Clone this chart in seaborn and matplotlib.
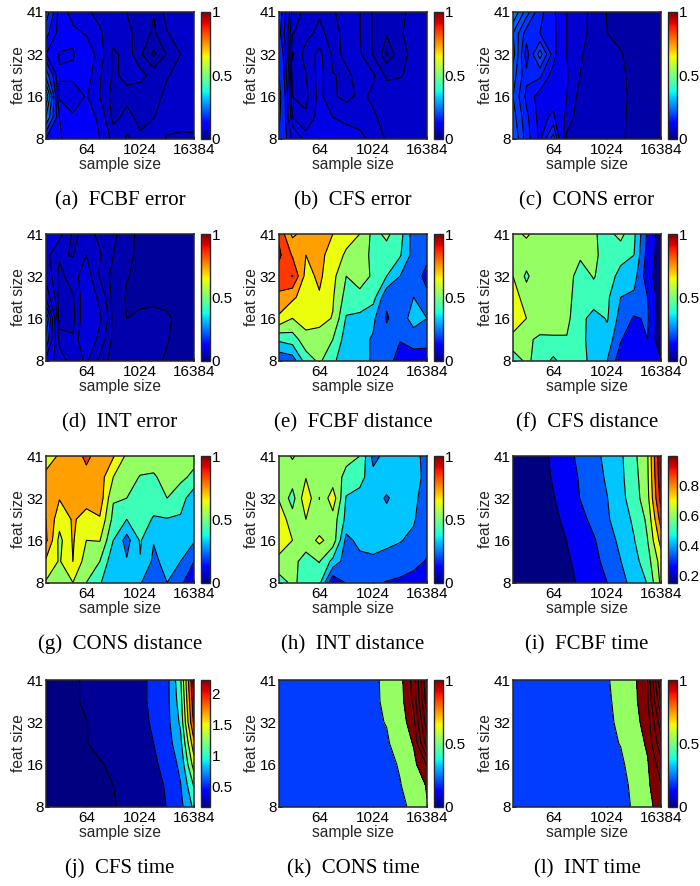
import matplotlib
matplotlib.use("Agg")
import matplotlib.pyplot as plt
import numpy as np
import seaborn as sns

sample_sizes = [8, 16, 32, 64, 128, 256, 512, 1024, 2048, 4096, 8192, 16384]
feat_rows = [0, 1, 2, 3, 4, 5, 6]  # 8 .. 41, evenly spaced on the picture
feat_ticks = ["8", "16", "32", "41"]
x_ticks = [64, 1024, 16384]

# rows go from feat size 8 (bottom) to 41 (top)
fcbf_error = [
    [.15, .13, .105, .104, .100, .073, .0585, .063, .063, .0595, .058, .0585],
    [.24, .125, .103, .105, .098, .0535, .066, .055, .0598, .063, .064, .064],
    [.30, .095, .088, .102, .08, .052, .055, .052, .054, .064, .066, .066],
    [.20, .102, .105, .112, .082, .057, .0645, .064, .056, .059, .064, .065],
    [.125, .098, .098, .115, .09, .056, .066, .052, .038, .051, .06, .064],
    [.16, .115, .105, .098, .082, .07, .062, .057, .048, .0595, .064, .066],
    [.20, .112, .092, .082, .076, .07, .06, .057, .0505, .064, .065, .066],
]
cfs_error = [
    [.19, .12, .092, .1, .1, .095, .09, .08, .068, .066, .065, .064],
    [.21, .085, .0725, .092, .085, .08, .078, .0715, .0665, .066, .065, .065],
    [.22, .0695, .066, .09, .072, .066, .0725, .068, .066, .0665, .0665, .065],
    [.20, .064, .0695, .0915, .0705, .0685, .0725, .0715, .058, .059, .0635, .065],
    [.19, .0585, .075, .09, .067, .072, .0715, .059, .044, .055, .064, .065],
    [.16, .0705, .066, .073, .0655, .0745, .0705, .059, .051, .059, .0635, .065],
    [.17, .08, .065, .0685, .069, .074, .0705, .059, .052, .058, .0625, .064],
]
cons_error = [
    [.21, .16, .125, .18, .065, .062, .058, .055, .0515, .047, .045, .044],
    [.20, .155, .122, .135, .08, .06, .058, .055, .052, .047, .045, .044],
    [.19, .145, .12, .12, .09, .062, .059, .056, .053, .047, .045, .044],
    [.20, .155, .155, .12, .092, .07, .06, .057, .0515, .0475, .045, .044],
    [.22, .14, .2, .14, .09, .072, .062, .058, .0505, .047, .045, .044],
    [.21, .16, .15, .14, .09, .074, .066, .05, .048, .046, .045, .044],
    [.25, .2, .155, .137, .09, .076, .065, .049, .047, .046, .045, .044],
]
int_error = [
    [.12, .085, .065, .078, .057, .045, .042, .042, .042, .039, .036, .035],
    [.17, .069, .0623, .095, .068, .047, .042, .042, .042, .0405, .037, .036],
    [.2, .05, .055, .09, .078, .047, .04, .0408, .0412, .0405, .039, .037],
    [.12, .052, .0585, .088, .071, .046, .039, .039, .039, .039, .038, .036],
    [.09, .055, .068, .085, .058, .047, .0405, .038, .036, .036, .035, .035],
    [.08, .062, .059, .075, .061, .05, .042, .038, .036, .036, .035, .035],
    [.085, .08, .058, .063, .058, .053, .043, .038, .036, .036, .035, .035],
]
fcbf_dist = [
    [.22, .25, .45, .52, .42, .34, .33, .29, .24, .16, .14, .15],
    [.42, .45, .56, .56, .50, .35, .33, .29, .235, .205, .25, .235],
    [.68, .60, .65, .63, .595, .39, .37, .32, .19, .25, .34, .30],
    [.78, .72, .65, .69, .61, .46, .48, .44, .22, .27, .30, .22],
    [.85, .905, .665, .72, .63, .50, .53, .49, .40, .30, .25, .17],
    [.92, .79, .70, .72, .67, .58, .56, .47, .46, .41, .26, .22],
    [.88, .68, .74, .74, .70, .65, .60, .47, .52, .44, .25, .23],
]
cfs_dist = [
    [.45, .52, .46, .38, .46, .43, .37, .30, .14, .12, .12, .10],
    [.56, .52, .48, .485, .495, .44, .34, .36, .21, .12, .2, .02],
    [.68, .60, .57, .56, .52, .44, .35, .41, .26, .19, .21, .03],
    [.65, .55, .53, .55, .53, .45, .47, .42, .30, .28, .20, .04],
    [.60, .48, .58, .55, .53, .47, .505, .46, .36, .34, .14, .04],
    [.57, .56, .57, .56, .55, .51, .52, .46, .44, .40, .16, .05],
    [.58, .61, .57, .56, .55, .53, .51, .47, .53, .42, .18, .05],
]
cons_dist = [
    [.59, .585, .6, .5, .41, .32, .31, .31, .22, .3, .22, .13],
    [.68, .59, .7, .55, .5, .33, .31, .395, .28, .33, .3, .2],
    [.82, .57, .71, .6, .605, .4, .26, .41, .305, .34, .33, .31],
    [.8, .64, .71, .67, .69, .47, .4, .45, .39, .395, .385, .32],
    [.74, .705, .72, .73, .76, .51, .5, .46, .45, .5, .45, .33],
    [.74, .74, .73, .76, .75, .60, .54, .495, .49, .53, .52, .48],
    [.62, .72, .73, .83, .74, .71, .58, .55, .54, .53, .52, .53],
]
int_dist = [
    [.46, .52, .46, .43, .12, .21, .23, .22, .195, .18, .15, .1],
    [.56, .53, .46, .505, .37, .25, .27, .28, .27, .26, .24, .19],
    [.68, .6, .55, .62, .56, .27, .33, .34, .32, .305, .28, .24],
    [.67, .54, .6, .53, .56, .37, .34, .33, .33, .32, .31, .24],
    [.59, .46, .67, .498, .66, .39, .36, .34, .29, .34, .32, .26],
    [.56, .55, .595, .55, .54, .48, .44, .33, .35, .35, .34, .27],
    [.55, .61, .55, .54, .53, .52, .5, .27, .33, .34, .33, .27],
]
fcbf_time = [
    [.157, .17, .18, .2, .23, .245, .28, .325, .395, .425, .50, .68],
    [.157, .17, .18, .20, .23, .262, .302, .35, .407, .464, .542, .70],
    [.157, .17, .19, .20, .2415, .279, .317, .371, .43, .49, .576, .78],
    [.157, .17, .20, .22, .261, .302, .347, .399, .451, .509, .595, .87],
    [.157, .18, .21, .235, .281, .327, .367, .407, .469, .536, .634, .95],
    [.157, .18, .205, .248, .29, .333, .375, .42, .477, .545, .647, .98],
    [.157, .18, .20, .262, .30, .345, .383, .432, .48, .558, .654, 1.0],
]
cfs_time = [
    [.18, .18, .19, .2, .21, .215, .235, .37, .44, .505, .67, 1.0],
    [.18, .19, .2, .205, .21, .22, .25, .38, .44, .52, .72, 1.17],
    [.18, .19, .2, .205, .215, .23, .27, .4, .47, .56, .79, 1.45],
    [.18, .19, .2, .218, .235, .27, .38, .44, .5, .63, .89, 1.7],
    [.18, .2, .21, .219, .23, .34, .41, .46, .52, .66, .99, 2.0],
    [.18, .2, .215, .225, .25, .35, .42, .47, .53, .67, 1.06, 2.1],
    [.18, .2, .215, .225, .26, .36, .42, .47, .53, .664, 1.12, 2.2],
]
cons_time = [
    [.18, .18, .19, .2, .21, .23, .26, .3, .36, .44, .56, .97],
    [.18, .19, .2, .21, .22, .24, .27, .31, .38, .49, .6, 1.05],
    [.19, .19, .2, .21, .23, .25, .28, .34, .44, .52, .84, 1.55],
    [.19, .2, .2, .22, .24, .26, .3, .38, .47, .61, 1.04, 2.8],
    [.2, .2, .21, .22, .24, .27, .32, .46, .51, .7, 1.33, 3.3],
    [.2, .2, .21, .22, .24, .28, .33, .46, .54, .78, 1.6, 3.8],
    [.2, .2, .21, .22, .24, .28, .33, .45, .56, .82, 1.7, 4.0],
]
int_time = [
    [.18, .18, .19, .2, .21, .23, .26, .32, .42, .53, .86, 1.2],
    [.18, .19, .2, .21, .22, .24, .27, .34, .46, .53, .9, 1.45],
    [.19, .19, .2, .21, .23, .25, .28, .36, .45, .62, .95, 1.8],
    [.19, .2, .2, .22, .24, .26, .3, .44, .51, .72, 1.08, 2.4],
    [.2, .2, .21, .22, .24, .27, .32, .48, .52, .8, 1.25, 2.8],
    [.2, .2, .21, .22, .24, .28, .33, .44, .62, .86, 1.42, 3.5],
    [.2, .2, .21, .22, .24, .28, .33, .46, .68, .88, 1.5, 4.0],
]

# contour levels, lowest level sets the colour of the bottom band
tenths = [.0, .1, .2, .3, .4, .5, .6, .7, .8, .9, 1.0]
fcbf_error_levels = [.03, .04, .05, .06, .08, .10, .125, .15, .18, .21, .24, .27, .3, .4]
cfs_error_levels = [.03, .045, .05, .06, .07, .085, .1, .125, .15, .2, .3]
cons_error_levels = [.03, .05, .07, .09, .13, .15, .17, .19, .21, .23, .3]
int_error_levels = [.025, .04, .05, .06, .075, .1, .125, .15, .175, .25]
fcbf_time_levels = [.15, .24, .325, .409, .494, .578, .662, .747, .831, .916, 1.01]
cfs_time_levels = [.17, .22, .5, .73, .95, 1.15, 1.35, 1.55, 1.75, 1.95, 2.1, 2.3]
slow_time_levels = [.175, .5, 1, 1.5, 2, 2.5, 3, 3.5, 5]

unit_range = (0, 1)
unit_ticks = [0, 0.5, 1]

panels = [
    ("(a)  FCBF error", fcbf_error, fcbf_error_levels, unit_range, unit_ticks),
    ("(b)  CFS error", cfs_error, cfs_error_levels, unit_range, unit_ticks),
    ("(c)  CONS error", cons_error, cons_error_levels, unit_range, unit_ticks),
    ("(d)  INT error", int_error, int_error_levels, unit_range, unit_ticks),
    ("(e)  FCBF distance", fcbf_dist, tenths, unit_range, unit_ticks),
    ("(f)  CFS distance", cfs_dist, tenths, unit_range, unit_ticks),
    ("(g)  CONS distance", cons_dist, tenths, unit_range, unit_ticks),
    ("(h)  INT distance", int_dist, tenths, unit_range, unit_ticks),
    ("(i)  FCBF time", fcbf_time, fcbf_time_levels, (.156, 1.0), [.2, .4, .6, .8]),
    ("(j)  CFS time", cfs_time, cfs_time_levels, (.178, 2.22), [.5, 1, 1.5, 2]),
    ("(k)  CONS time", cons_time, slow_time_levels, unit_range, unit_ticks),
    ("(l)  INT time", int_time, slow_time_levels, unit_range, unit_ticks),
]

sns.set_theme(style="ticks")
plt.rcParams["font.family"] = ["Liberation Sans", "DejaVu Sans"]
jet = plt.get_cmap("jet")

W, H = 700, 886
lefts = [46, 279, 513]
tops = [12, 234, 456, 680]
ax_w, ax_h = 148, 126.5

fig = plt.figure(figsize=(W / 100, H / 100), dpi=100)
x_log = np.log2(sample_sizes)

for i, (caption, values, levels, clim, cticks) in enumerate(panels):
    left = lefts[i % 3]
    top = tops[i // 3]
    ax = fig.add_axes([left / W, 1 - (top + ax_h) / H, ax_w / W, ax_h / H])
    z = np.array(values)
    # the filled bands read a touch further along the map than their level
    colors = [jet(np.clip(1.06 * (l - clim[0]) / (clim[1] - clim[0]), 0, 1)) for l in levels[:-1]]
    ax.contourf(x_log, feat_rows, z, levels=levels, colors=colors, extend="neither")
    ax.contour(x_log, feat_rows, z, levels=levels[1:-1], colors="black", linewidths=0.8)

    ax.set_xlim(x_log[0], x_log[-1])
    ax.set_ylim(feat_rows[0], feat_rows[-1])
    ax.set_xticks(np.log2(x_ticks))
    ax.set_xticklabels([str(t) for t in x_ticks])
    ax.set_yticks(feat_rows[::2])
    ax.set_yticklabels(feat_ticks)
    ax.tick_params(axis="x", direction="in", length=2, width=0.6, labelsize=11, pad=3.5, colors="black")
    ax.tick_params(axis="y", direction="in", length=2, width=0.6, labelsize=11, pad=1.5, colors="black")
    ax.set_xlabel("sample size", fontsize=11.2, labelpad=-0.4)
    ax.set_ylabel("feat size", fontsize=11.2, labelpad=0.5)
    for s in ax.spines.values():
        s.set_linewidth(1.1)

    cax = fig.add_axes([(left + ax_w + 6.5) / W, 1 - (top + ax_h) / H, 9 / W, ax_h / H])
    sm = plt.cm.ScalarMappable(norm=plt.Normalize(*clim), cmap=jet)
    cb = fig.colorbar(sm, cax=cax, ticks=cticks)
    cb.ax.set_yticklabels([f"{t:g}" for t in cticks])
    cb.ax.tick_params(direction="in", length=0, labelsize=11, pad=1.5, colors="black")
    cb.outline.set_linewidth(1.0)

    fig.text((left + ax_w / 2) / W, 1 - (top + 188.5) / H, caption, ha="center", va="center",
             family="Liberation Serif", fontsize=15, color="black")

plt.savefig("out.png", dpi=100)
plt.close()
